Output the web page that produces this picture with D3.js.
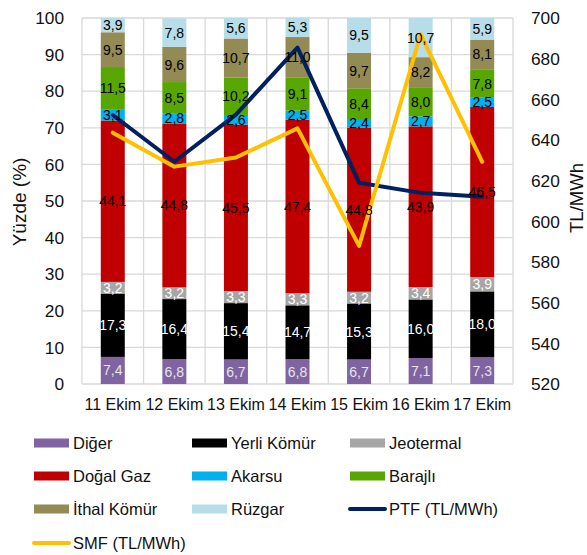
<!DOCTYPE html>
<html><head><meta charset="utf-8">
<script src="https://cdn.jsdelivr.net/npm/d3@7"></script>
<style>body{margin:0;background:#fff}svg{display:block;font-family:"Liberation Sans",Arial,sans-serif}</style>
</head><body><svg id="c" width="587" height="555"></svg>
<script>
const categories = ["11 Ekim","12 Ekim","13 Ekim","14 Ekim","15 Ekim","16 Ekim","17 Ekim"];
const diger      = [7.4, 6.8, 6.7, 6.8, 6.7, 7.1, 7.3];
const yerliKomur = [17.3, 16.4, 15.4, 14.7, 15.3, 16.0, 18.0];
const jeotermal  = [3.2, 3.2, 3.3, 3.3, 3.2, 3.4, 3.9];
const dogalGaz   = [44.1, 44.8, 45.5, 47.4, 44.8, 43.9, 46.5];
const akarsu     = [3.1, 2.8, 2.6, 2.5, 2.4, 2.7, 2.5];
const barajli    = [11.5, 8.5, 10.2, 9.1, 8.4, 8.0, 7.8];
const ithalKomur = [9.5, 9.6, 10.7, 11.0, 9.7, 8.2, 8.1];
const ruzgar     = [3.9, 7.8, 5.6, 5.3, 9.5, 10.7, 5.9];
const ptf        = [652.3, 629.3, 652.5, 685.4, 619.0, 614.0, 612.1];
const smf        = [643.6, 626.9, 631.4, 645.7, 587.9, 692.0, 629.3];
const leftTicks  = [0,10,20,30,40,50,60,70,80,90,100];
const rightTicks = [520,540,560,580,600,620,640,660,680,700];

const series = [
  {name:"Diğer", values:diger, color:"#8064a2", label:"#e6e6e6"},
  {name:"Yerli Kömür", values:yerliKomur, color:"#000000", label:"#ffffff"},
  {name:"Jeotermal", values:jeotermal, color:"#a6a6a6", label:"#ffffff"},
  {name:"Doğal Gaz", values:dogalGaz, color:"#c00000", label:"#000000"},
  {name:"Akarsu", values:akarsu, color:"#00b0f0", label:"#000000"},
  {name:"Barajlı", values:barajli, color:"#57a700", label:"#000000"},
  {name:"İthal Kömür", values:ithalKomur, color:"#948a54", label:"#000000"},
  {name:"Rüzgar", values:ruzgar, color:"#b7dde8", label:"#000000"}
];
const lines = [
  {name:"PTF (TL/MWh)", values:ptf, color:"#002060"},
  {name:"SMF (TL/MWh)", values:smf, color:"#ffc000"}
];

const L=82, R=513, T=18, B=384;
const svg = d3.select("#c");
const x = d3.scaleBand().domain(categories).range([L,R]).paddingInner(0).paddingOuter(0);
const yL = d3.scaleLinear().domain([0,100]).range([B,T]);
const yR = d3.scaleLinear().domain([520,700]).range([B,T]);
const grid = "#d9d9d9";

// gridlines
svg.append("g").selectAll("line").data(leftTicks).join("line")
  .attr("x1",L).attr("x2",R).attr("y1",d=>yL(d)).attr("y2",d=>yL(d))
  .attr("stroke",grid).attr("stroke-width",1.3);
const bounds = categories.map(c=>x(c)).concat([R]);
svg.append("g").selectAll("line").data(bounds).join("line")
  .attr("x1",d=>d).attr("x2",d=>d).attr("y1",T).attr("y2",B)
  .attr("stroke",grid).attr("stroke-width",1.3);

// stacked bars
const rows = categories.map((c,i)=>{const o={cat:c}; series.forEach(s=>o[s.name]=s.values[i]); return o;});
const stack = d3.stack().keys(series.map(s=>s.name))(rows);
const bw = 24;
const fmt = v => d3.format(".1f")(v).replace(".",",");
stack.forEach((layer,k)=>{
  const s = series[k];
  const g = svg.append("g");
  g.selectAll("rect").data(layer).join("rect")
    .attr("x",d=>x(d.data.cat)+x.bandwidth()/2-bw/2).attr("width",bw)
    .attr("y",d=>yL(d[1])).attr("height",d=>yL(d[0])-yL(d[1]))
    .attr("fill",s.color);
});
// line series
lines.forEach(ln=>{
  const gen = d3.line().x((d,i)=>x(categories[i])+x.bandwidth()/2).y(d=>yR(d));
  svg.append("path").attr("d",gen(ln.values)).attr("fill","none")
    .attr("stroke",ln.color).attr("stroke-width",4).attr("stroke-linejoin","round").attr("stroke-linecap","round");
});
// labels on top
stack.forEach((layer,k)=>{
  const s = series[k];
  svg.append("g").selectAll("text").data(layer).join("text")
    .attr("x",d=>x(d.data.cat)+x.bandwidth()/2).attr("y",d=>yL((d[0]+d[1])/2))
    .attr("dy","0.36em").attr("text-anchor","middle").attr("font-size",14)
    .attr("fill",s.label).text(d=>fmt(d[1]-d[0]));
});

// axes
svg.append("g").selectAll("text").data(leftTicks).join("text")
  .attr("x",64).attr("y",d=>yL(d)).attr("dy","0.36em").attr("text-anchor","end")
  .attr("font-size",17.3).attr("fill","#111").text(d=>d);
svg.append("g").selectAll("text").data(rightTicks).join("text")
  .attr("x",531).attr("y",d=>yR(d)).attr("dy","0.36em").attr("text-anchor","start")
  .attr("font-size",17.3).attr("fill","#111").text(d=>d);
svg.append("g").selectAll("text").data(categories).join("text")
  .attr("x",d=>x(d)+x.bandwidth()/2).attr("y",410).attr("text-anchor","middle")
  .attr("font-size",16).attr("fill","#111").text(d=>d);
svg.append("text").attr("transform","translate(26,202) rotate(-90)").attr("text-anchor","middle")
  .attr("font-size",19).attr("fill","#111").text("Yüzde (%)");
svg.append("text").attr("transform","translate(583,198) rotate(-90)").attr("text-anchor","middle")
  .attr("font-size",18.5).attr("fill","#111").text("TL/MWh");

// legend
const legItems = series.map(s=>({name:s.name,color:s.color,type:"rect"}))
  .concat(lines.map(l=>({name:l.name,color:l.color,type:"line"})));
const colX = [34,192,350], rowY = [443,476,509,543];
legItems.forEach((it,i)=>{
  const cx = colX[i%3], cy = rowY[Math.floor(i/3)];
  if(it.type==="rect"){
    svg.append("rect").attr("x",cx).attr("y",cy-4.5).attr("width",35).attr("height",9).attr("fill",it.color);
  } else {
    svg.append("line").attr("x1",cx).attr("x2",cx+35).attr("y1",cy).attr("y2",cy)
      .attr("stroke",it.color).attr("stroke-width",4).attr("stroke-linecap","round");
  }
  svg.append("text").attr("x",cx+39).attr("y",cy).attr("dy","0.36em")
    .attr("font-size",16.5).attr("fill","#111").text(it.name);
});
</script></body></html>
